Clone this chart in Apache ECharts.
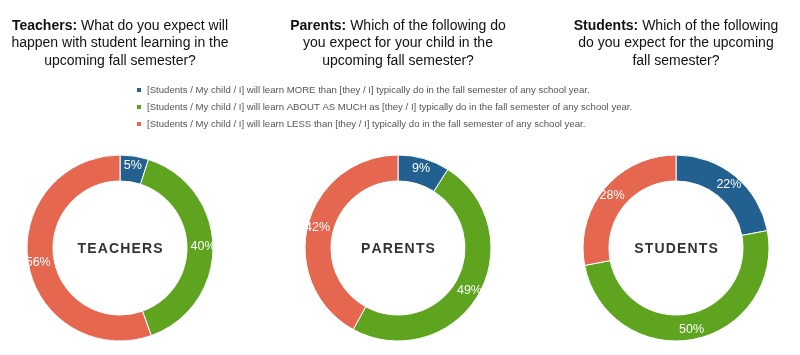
<!DOCTYPE html>
<html>
<head>
<meta charset="utf-8">
<script src="https://cdn.jsdelivr.net/npm/echarts@6/dist/echarts.min.js"></script>
<style>
    html, body { margin: 0; padding: 0; background: #fff; }
    #chart { width: 800px; height: 355px; }
</style>
</head>
<body>
<div id="chart"></div>
<script>
// 数据
var categories = [
    '[Students / My child / I] will learn MORE than [they / I] typically do in the fall semester of any school year.',
    '[Students / My child / I] will learn ABOUT AS MUCH as [they / I] typically do in the fall semester of any school year.',
    '[Students / My child / I] will learn LESS than [they / I] typically do in the fall semester of any school year.'
];
var groups = ['TEACHERS', 'PARENTS', 'STUDENTS'];
var teachers = [5, 40, 56];
var parents = [9, 49, 42];
var students = [22, 50, 28];
var questions = [
    ['Teachers:', ' What do you expect will', 'happen with student learning in the', 'upcoming fall semester?'],
    ['Parents:', ' Which of the following do', 'you expect for your child in the', 'upcoming fall semester?'],
    ['Students:', ' Which of the following', 'do you expect for the upcoming', 'fall semester?']
];

(function () {
    var myChart = echarts.init(document.getElementById('chart'));
    var colors = ['#22618f', '#5ea41f', '#e5674f'];
    var centersX = [120, 398, 676];
    var values = [teachers, parents, students];

    // 标题
    var titles = questions.map(function (q, i) {
        return {
            text: '{b|' + q[0] + '}{n|' + q[1] + '}\n{n|' + q[2] + '}\n{n|' + q[3] + '}',
            left: centersX[i],
            top: 17,
            padding: 0,
            textAlign: 'center',
            textStyle: {
                fontWeight: 'normal',
                rich: {
                    b: { fontFamily: 'Liberation Sans', fontSize: 14, fontWeight: 'bold', color: '#111', lineHeight: 17.5 },
                    n: { fontFamily: 'Liberation Sans', fontSize: 14, fontWeight: 'normal', color: '#111', lineHeight: 17.5 }
                }
            }
        };
    });

    // 中间文字 (字间距用细空格)
    var centerText = groups.map(function (g, i) {
        return {
            type: 'text',
            x: centersX[i],
            y: 249,
            style: {
                text: g.split('').join('\u200A'),
                fontFamily: 'Liberation Sans',
                fontSize: 14,
                fontWeight: 'bold',
                fill: '#333',
                align: 'center',
                verticalAlign: 'middle'
            }
        };
    });

    var series = values.map(function (vals, i) {
        return {
            name: groups[i],
            type: 'pie',
            center: [centersX[i], 248],
            radius: [67, 93],
            startAngle: 90,
            clockwise: true,
            avoidLabelOverlap: false,
            itemStyle: { borderColor: '#fff', borderWidth: 1 },
            label: {
                show: true,
                position: 'inside',
                formatter: '{c}%',
                color: '#fff',
                fontFamily: 'Liberation Sans',
                fontSize: 12.5
            },
            labelLine: { show: false },
            emphasis: { disabled: true },
            data: vals.map(function (v, k) {
                return { name: categories[k], value: v };
            })
        };
    });

    var option = {
        color: colors,
        animation: false,
        title: titles,
        legend: {
            orient: 'vertical',
            left: 135,
            top: 84,
            padding: 0,
            itemWidth: 6,
            itemHeight: 6,
            itemGap: 5,
            icon: 'rect',
            selectedMode: false,
            data: categories,
            textStyle: {
                fontFamily: 'Liberation Sans',
                fontSize: 9.6,
                lineHeight: 12,
                color: '#555'
            }
        },
        graphic: centerText,
        series: series
    };
    myChart.setOption(option);

    window.addEventListener('resize', function () {
        myChart.resize();
    });
})();
</script>
</body>
</html>
